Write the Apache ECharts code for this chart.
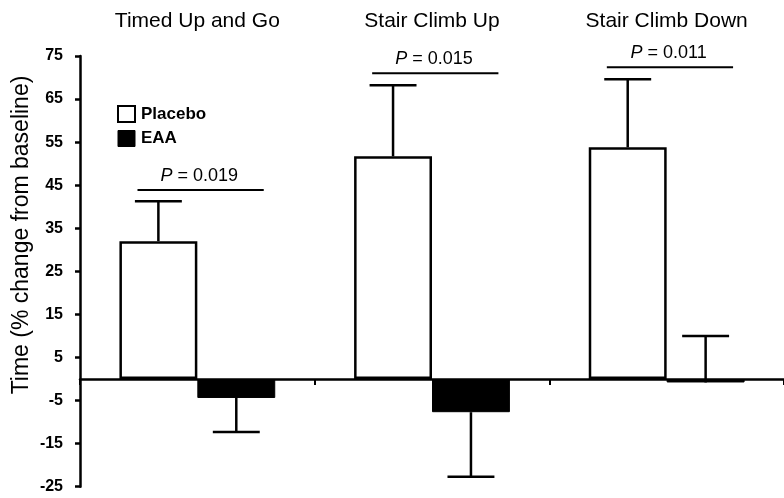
<!DOCTYPE html>
<html>
<head>
<meta charset="utf-8">
<script src="https://cdn.jsdelivr.net/npm/echarts@6/dist/echarts.min.js"></script>
<style>
html,body{margin:0;padding:0;background:#fff;}
#chart{width:784px;height:498px;}
</style>
</head>
<body>
<div id="chart"></div>
<script>
const categories = ['Timed Up and Go', 'Stair Climb Up', 'Stair Climb Down'];
const placebo = [32, 51.7, 53.8];
const placeboErrEnd = [41.3, 68.2, 69.6];
const eaa = [-4.4, -7.7, -0.8];
const eaaErrEnd = [-12.3, -22.7, 10];
const pValues = ['0.019', '0.015', '0.011'];
const pLevels = [43.9, 71.0, 72.4];
const yMin = -25, yMax = 75, yStep = 10;

const FONT = 'Liberation Sans, Arial, sans-serif';
const chart = echarts.init(document.getElementById('chart'));

function errorRenderer(side) {
  return function (params, api) {
    const i = api.value(0);
    const from = api.coord([i, api.value(1)]);
    const to = api.coord([i, api.value(2)]);
    const cw = api.size([1, 0])[0];
    const x = from[0] + side * cw * 0.166;
    const cap = cw * 0.1;
    return {
      type: 'group',
      children: [
        { type: 'line', shape: { x1: x, y1: from[1], x2: x, y2: to[1] }, style: { stroke: '#000', lineWidth: 2.5 } },
        { type: 'line', shape: { x1: x - cap, y1: to[1], x2: x + cap, y2: to[1] }, style: { stroke: '#000', lineWidth: 2.5 } }
      ]
    };
  };
}

function pRenderer(params, api) {
  const i = api.value(0);
  const c = api.coord([i, api.value(1)]);
  const cw = api.size([1, 0])[0];
  return {
    type: 'group',
    children: [
      { type: 'line', shape: { x1: c[0] - cw * 0.255, y1: c[1], x2: c[0] + cw * 0.283, y2: c[1] }, style: { stroke: '#000', lineWidth: 2 } },
      { type: 'text', x: c[0] + 2, y: c[1] - 14,
        style: { text: '{i|P} = ' + pValues[i], align: 'center', verticalAlign: 'middle', fontFamily: FONT, fontSize: 18, fill: '#000',
          rich: { i: { fontStyle: 'italic', fontFamily: FONT, fontSize: 18, fill: '#000' } } } }
    ]
  };
}

chart.setOption({
  animation: false,
  backgroundColor: '#fff',
  grid: { left: 80, top: 56, width: 711, bottom: 11.3, containLabel: false },
  legend: {
    left: 112, top: 100, orient: 'vertical', itemWidth: 17, itemHeight: 16, itemGap: 7,
    icon: 'rect',
    textStyle: { fontFamily: FONT, fontWeight: 'bold', fontSize: 17, color: '#000', padding: [0, 0, 0, 1] },
    data: [
      { name: 'Placebo', itemStyle: { color: '#fff', borderColor: '#000', borderWidth: 2 } },
      { name: 'EAA', itemStyle: { color: '#000', borderColor: '#000', borderWidth: 1 } }
    ]
  },
  xAxis: [
    {
      type: 'category', data: categories, position: 'bottom',
      axisLine: { onZero: true, lineStyle: { color: '#000', width: 2.5 } },
      axisTick: { show: true, length: 6, alignWithLabel: false, lineStyle: { color: '#000', width: 2 } },
      axisLabel: { show: false }, splitLine: { show: false }
    },
    {
      type: 'category', data: categories, position: 'top',
      axisLine: { show: false, onZero: false }, axisTick: { show: false },
      axisLabel: { show: true, margin: 24, fontFamily: FONT, fontSize: 21, color: '#000' },
      splitLine: { show: false }
    }
  ],
  yAxis: {
    type: 'value', min: yMin, max: yMax, interval: yStep,
    axisLine: { show: true, onZero: false, lineStyle: { color: '#000', width: 2.5 } },
    axisTick: { show: true, length: 5, lineStyle: { color: '#000', width: 2.5 } },
    axisLabel: { margin: 17, fontFamily: FONT, fontWeight: 'bold', fontSize: 16, color: '#000', padding: [8, 0, 0, 0] },
    splitLine: { show: false }
  },
  graphic: [
    { type: 'text', x: 22, y: 235, rotation: Math.PI / 2,
      style: { text: 'Time (% change from baseline)', fontFamily: FONT, fontSize: 23, fill: '#000', align: 'center', verticalAlign: 'middle' } }
  ],
  series: [
    { name: 'Placebo', type: 'bar', data: placebo, barWidth: '33.2%', barGap: '0%',
      itemStyle: { color: '#fff', borderColor: '#000', borderWidth: 2.5 } },
    { name: 'EAA', type: 'bar', data: eaa, barWidth: '33.2%', barGap: '0%',
      itemStyle: { color: '#000', borderColor: '#000', borderWidth: 1 } },
    { type: 'custom', z: 5, renderItem: errorRenderer(-1),
      data: categories.map((c, i) => [i, placebo[i], placeboErrEnd[i]]), encode: { x: 0, y: [1, 2] } },
    { type: 'custom', z: 5, renderItem: errorRenderer(1),
      data: categories.map((c, i) => [i, eaa[i], eaaErrEnd[i]]), encode: { x: 0, y: [1, 2] } },
    { type: 'custom', z: 5, renderItem: pRenderer,
      data: categories.map((c, i) => [i, pLevels[i]]), encode: { x: 0, y: 1 } }
  ]
});
</script>
</body>
</html>
